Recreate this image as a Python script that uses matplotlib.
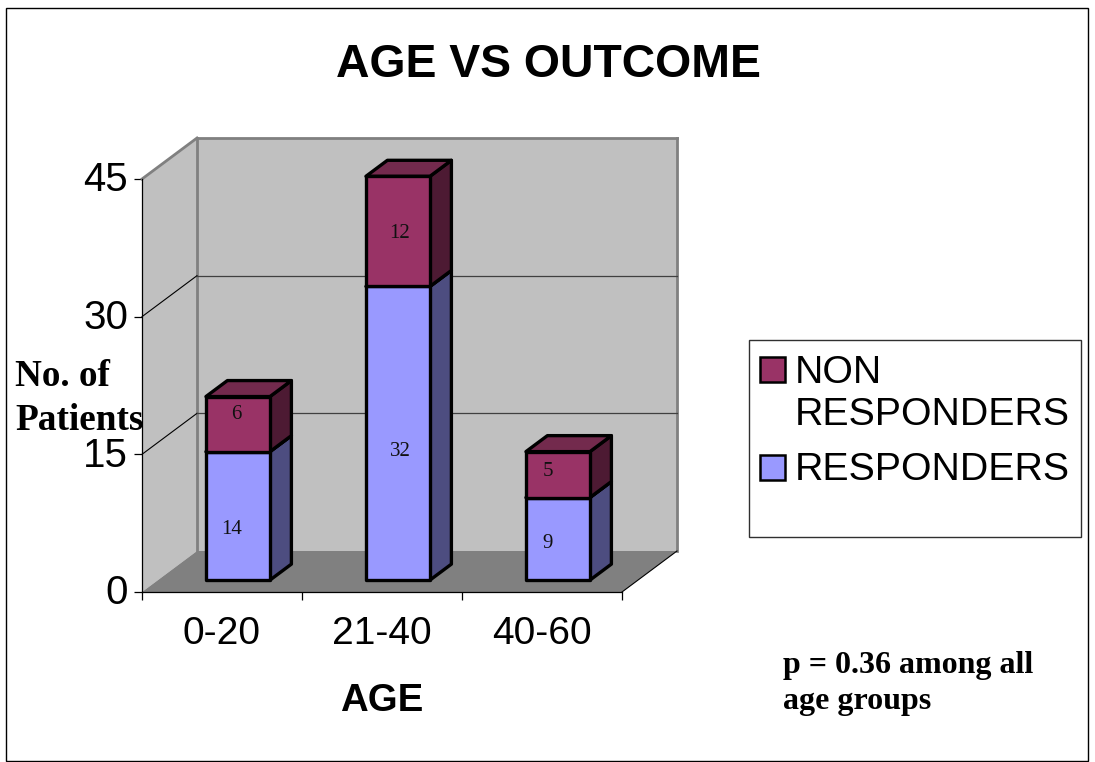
# Stacked age vs outcome chart, drawn with an oblique 3D look on a plain 2D axes
import matplotlib
matplotlib.use("Agg")
import matplotlib.pyplot as plt
from matplotlib.patches import Polygon, Rectangle
from matplotlib.transforms import Affine2D, ScaledTranslation

age_groups = ['0-20', '21-40', '40-60']
responders = [14, 32, 9]
non_responders = [6, 12, 5]
value_ticks = [0, 15, 30, 45]

# label nudges in pixels, relative to the middle of each segment
resp_nudge = [(-6, -14), (2, -18), (-10, -5)]
non_nudge = [(-2, 10), (2, -2), (-10, 3)]

W, H = 1095, 762
plt.rcParams['font.family'] = ['Liberation Sans', 'DejaVu Sans']

fig = plt.figure(figsize=(W / 100, H / 100), dpi=100)
# pixel coordinates with the origin at the top left
px = Affine2D().scale(1, -1).translate(0, H)

left, right, top, bottom = 142, 622, 179, 592
ax = fig.add_axes([left / W, 1 - bottom / H, (right - left) / W, (bottom - top) / H])
ax.set_xlim(0, 3)
ax.set_ylim(0, 45)
ax.patch.set_visible(False)

# depth of the chart box, in data units
depth_x = 55 / ((right - left) / 3)
depth_y = 41 / ((bottom - top) / 45)


def proj(x, v, d):
    return (x + d * depth_x, v + d * depth_y)


def face(points, color, edge, lw, z):
    ax.add_patch(Polygon([proj(*p) for p in points], closed=True, facecolor=color,
                         edgecolor=edge, linewidth=lw, zorder=z, clip_on=False,
                         joinstyle='round'))


# walls and floor
face([(0, 0, 0), (0, 45, 0), (0, 45, 1), (0, 0, 1)], '#c0c0c0', 'none', 0, 1)
face([(0, 0, 1), (0, 45, 1), (3, 45, 1), (3, 0, 1)], '#c0c0c0', 'none', 0, 1)
face([(0, 0, 0), (3, 0, 0), (3, 0, 1), (0, 0, 1)], '#808080', 'none', 0, 2)

for a, b in [((0, 45, 0), (0, 45, 1)), ((0, 45, 1), (3, 45, 1)),
             ((0, 0, 1), (0, 45, 1)), ((3, 0, 1), (3, 45, 1))]:
    p, q = proj(*a), proj(*b)
    ax.plot([p[0], q[0]], [p[1], q[1]], color='#808080', lw=2.0, zorder=3, clip_on=False,
            solid_capstyle='projecting')

for v in value_ticks[1:3]:
    p, q, r = proj(0, v, 0), proj(0, v, 1), proj(3, v, 1)
    ax.plot([p[0], q[0]], [p[1], q[1]], color='black', lw=0.8, zorder=3, clip_on=False)
    ax.plot([q[0], r[0]], [q[1], r[1]], color='#404040', lw=0.9, zorder=3, clip_on=False)

p, q = proj(3, 0, 0), proj(3, 0, 1)
ax.plot([p[0], q[0]], [p[1], q[1]], color='black', lw=0.8, zorder=3, clip_on=False)

# bars, each segment as front, side and top faces
bar_w = 0.4
d0, d1 = 0.29, 0.68
edge_lw = 2.4
for i in range(len(age_groups)):
    x0, x1 = i + 0.3, i + 0.3 + bar_w
    stack = [(0, responders[i], '#9999ff', '#4d4d80', '#6f6fb8', resp_nudge[i]),
             (responders[i], responders[i] + non_responders[i], '#993366', '#4d1a33', '#732a4d', non_nudge[i])]
    for lo, hi, front, side, lid, nudge in stack:
        face([(x1, lo, d0), (x1, hi, d0), (x1, hi, d1), (x1, lo, d1)], side, 'black', edge_lw, 5)
        face([(x0, hi, d0), (x0, hi, d1), (x1, hi, d1), (x1, hi, d0)], lid, 'black', edge_lw, 5)
        face([(x0, lo, d0), (x0, hi, d0), (x1, hi, d0), (x1, lo, d0)], front, 'black', edge_lw, 6)
        cx, cy = proj((x0 + x1) / 2, (lo + hi) / 2, d0)
        ax.annotate(str(hi - lo), (cx, cy), xytext=(nudge[0] * 0.72, nudge[1] * 0.72),
                    textcoords='offset points', ha='center', va='center', fontsize=15,
                    family=['Liberation Serif'], color='#111111', zorder=8)

# axes
for name in ['top', 'right']:
    ax.spines[name].set_visible(False)
for name in ['left', 'bottom']:
    ax.spines[name].set_linewidth(0.9)
    ax.spines[name].set_zorder(4)
ax.set_yticks(value_ticks)
ax.set_yticklabels([str(v) for v in value_ticks], fontsize=29)
ax.tick_params(axis='y', length=6, width=0.9, pad=4)
# value labels sit a little above their ticks
for lab in ax.get_yticklabels():
    lab.set_transform(lab.get_transform() + ScaledTranslation(0, 2 / 72, fig.dpi_scale_trans))
ax.set_xticks(range(len(age_groups) + 1))
ax.set_xticklabels([])
ax.set_xticks([i + 0.5 for i in range(len(age_groups))], minor=True)
ax.set_xticklabels(age_groups, minor=True, fontsize=28)
ax.tick_params(axis='x', which='major', length=6, width=0.9)
ax.tick_params(axis='x', which='minor', length=0, pad=17)

# titles and notes
fig.text(548, 65, 'AGE VS OUTCOME', transform=px, ha='center', va='center',
         fontsize=33.4, fontweight='bold')
fig.text(382, 701, 'AGE', transform=px, ha='center', va='center', fontsize=27.6, fontweight='bold')
fig.text(15, 377, 'No. of', transform=px, ha='left', va='center', fontsize=26.8,
         fontweight='bold', family=['Liberation Serif'])
fig.text(15, 420, 'Patients', transform=px, ha='left', va='center', fontsize=26.8,
         fontweight='bold', family=['Liberation Serif'])
fig.text(783, 665, 'p = 0.36 among all', transform=px, ha='left', va='center', fontsize=23,
         fontweight='bold', family=['Liberation Serif'])
fig.text(783, 702, 'age groups', transform=px, ha='left', va='center', fontsize=23,
         fontweight='bold', family=['Liberation Serif'])

# legend box
fig.add_artist(Rectangle((749, 340), 332, 197, transform=px, facecolor='white',
                         edgecolor='#303030', linewidth=1.0))
for y0, color in [(357, '#993366'), (455, '#9999ff')]:
    fig.add_artist(Rectangle((760, y0), 25, 25, transform=px, facecolor=color,
                             edgecolor='black', linewidth=1.8))
fig.text(795, 373, 'NON', transform=px, ha='left', va='center', fontsize=28.3)
fig.text(795, 415, 'RESPONDERS', transform=px, ha='left', va='center', fontsize=28.3)
fig.text(795, 470, 'RESPONDERS', transform=px, ha='left', va='center', fontsize=28.3)

# outer frame
fig.add_artist(Rectangle((6, 8), 1082, 753, transform=px, facecolor='none',
                         edgecolor='black', linewidth=1.0))

fig.savefig('out.png', dpi=100)
